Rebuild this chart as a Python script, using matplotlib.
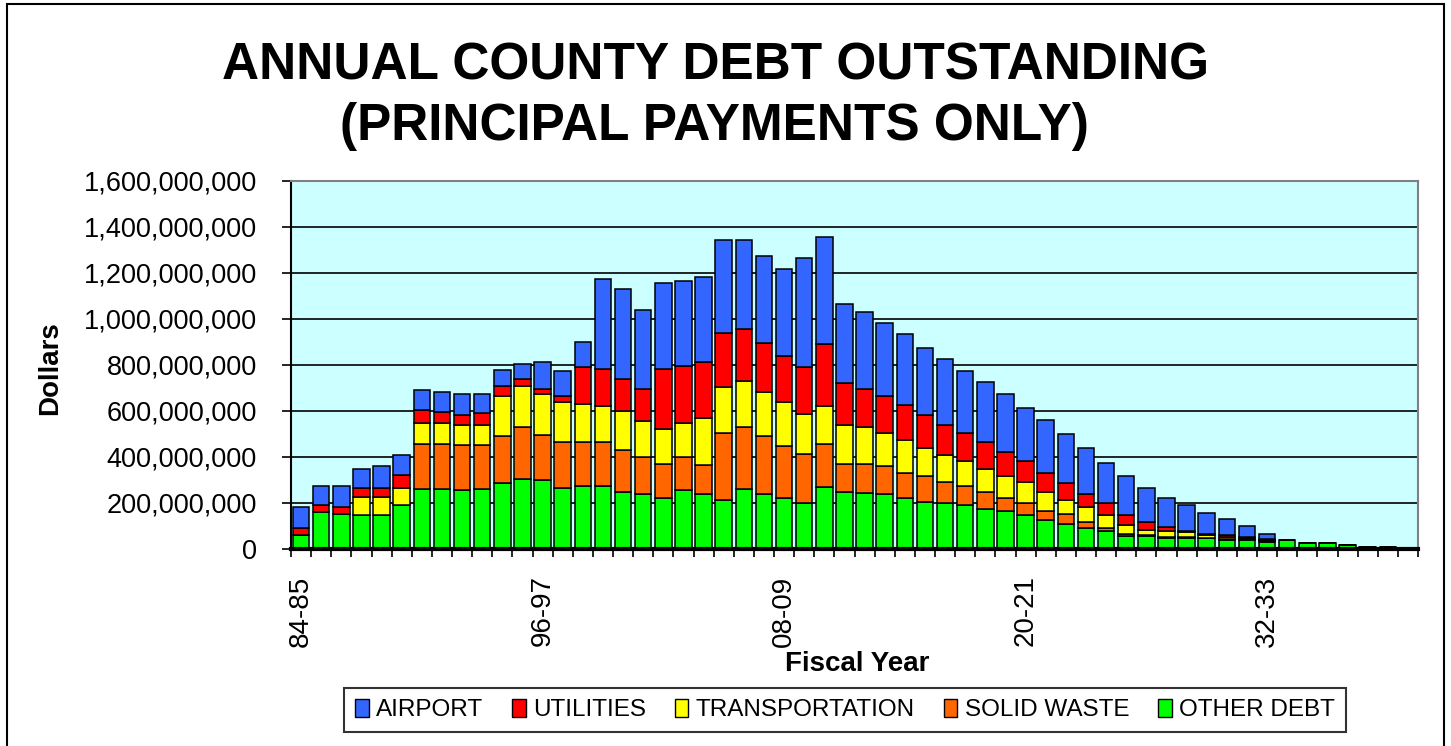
#!/usr/bin/env python3
# -*- coding: utf-8 -*-

"""
Annual county debt outstanding (principal payments only), stacked bars per fiscal year.
"""

import matplotlib
matplotlib.use("Agg")
import matplotlib.pyplot as plt
from matplotlib.patches import Patch, Rectangle
from matplotlib.ticker import FuncFormatter, FixedLocator

# fiscal years on the x axis
fiscal_years = [
    "84-85", "85-86", "86-87", "87-88", "88-89", "89-90", "90-91", "91-92",
    "92-93", "93-94", "94-95", "95-96", "96-97", "97-98", "98-99", "99-00",
    "00-01", "01-02", "02-03", "03-04", "04-05", "05-06", "06-07", "07-08",
    "08-09", "09-10", "10-11", "11-12", "12-13", "13-14", "14-15", "15-16",
    "16-17", "17-18", "18-19", "19-20", "20-21", "21-22", "22-23", "23-24",
    "24-25", "25-26", "26-27", "27-28", "28-29", "29-30", "30-31", "31-32",
    "32-33", "33-34", "34-35", "35-36", "36-37", "37-38", "38-39", "39-40",
]
shown_labels = ["84-85", "96-97", "08-09", "20-21", "32-33"]

# values in millions of dollars
other_debt = [
    60, 162, 154, 149, 149, 193, 262, 262, 255, 262, 288, 306, 298, 265,
    272, 272, 248, 241, 222, 255, 238, 212, 262, 241, 222, 200, 270, 248,
    245, 241, 222, 204, 200, 190, 172, 164, 146, 125, 107, 91, 78, 57,
    55, 46, 46, 46, 41, 41, 30, 38, 26, 26, 17, 8, 8, 1,
]
solid_waste = [
    0, 0, 0, 0, 0, 0, 196, 196, 198, 191, 202, 224, 199, 200,
    193, 193, 184, 159, 149, 145, 126, 294, 268, 249, 224, 214, 185, 123,
    126, 118, 108, 112, 91, 82, 76, 59, 54, 40, 44, 26, 15, 8,
    7, 6, 6, 4, 3, 3, 5, 0, 0, 0, 0, 0, 0, 0,
]
transportation = [
    0, 0, 0, 77, 77, 72, 90, 90, 87, 87, 174, 177, 175, 174,
    167, 158, 168, 156, 152, 149, 207, 198, 200, 192, 193, 174, 165, 167,
    159, 147, 142, 123, 116, 109, 101, 93, 91, 83, 63, 66, 53, 40,
    22, 26, 22, 10, 8, 4, 5, 0, 0, 0, 0, 0, 0, 0,
]
utilities = [
    30, 31, 29, 39, 39, 58, 58, 49, 41, 51, 43, 33, 25, 25,
    159, 158, 138, 141, 258, 248, 242, 235, 226, 215, 199, 203, 270, 185,
    167, 158, 153, 142, 133, 125, 116, 106, 92, 82, 74, 58, 54, 41,
    33, 16, 3, 5, 7, 4, 5, 0, 0, 0, 0, 0, 0, 0,
]
airport = [
    93, 82, 92, 84, 94, 84, 84, 85, 91, 81, 73, 66, 116, 108,
    107, 393, 394, 343, 375, 368, 369, 403, 386, 375, 378, 475, 466, 343,
    333, 318, 308, 293, 284, 268, 260, 253, 231, 229, 210, 200, 174, 171,
    148, 129, 116, 93, 73, 46, 22, 3, 0, 0, 0, 0, 0, 0,
]

series_names = ["OTHER DEBT", "SOLID WASTE", "TRANSPORTATION", "UTILITIES", "AIRPORT"]
series_colors = ["#00FF00", "#FF6600", "#FFFF00", "#FF0000", "#3366FF"]


def plot_debt(output_png="out.png"):
    plt.rcParams["font.family"] = ["Liberation Sans", "DejaVu Sans"]

    fig = plt.figure(figsize=(14.51, 7.46), dpi=100)
    ax = fig.add_axes([291 / 1451, 1 - 549 / 746, (1418 - 291) / 1451, (549 - 181) / 746])
    ax.set_facecolor("#CCFFFF")

    x = list(range(len(fiscal_years)))
    series = [other_debt, solid_waste, transportation, utilities, airport]
    bottom = [0.0] * len(x)
    for values, color in zip(series, series_colors):
        dollars = [v * 1e6 for v in values]
        ax.bar(x, dollars, bottom=bottom, width=0.82, color=color,
               edgecolor="black", linewidth=1.1, zorder=3)
        bottom = [b + d for b, d in zip(bottom, dollars)]

    ax.set_xlim(-0.5, len(x) - 0.5)
    ax.set_ylim(0, 1.6e9)

    # y axis
    ax.set_yticks([i * 2e8 for i in range(9)])
    ax.yaxis.set_major_formatter(FuncFormatter(lambda v, p: f"{v:,.0f}"))
    ax.tick_params(axis="y", direction="out", length=6.5, width=1.2,
                   pad=18, labelsize=19.5, color="black")
    ax.grid(axis="y", color="black", linewidth=1.2, zorder=1)

    # x axis: labels every 12 years, tick marks between categories
    label_pos = [fiscal_years.index(s) for s in shown_labels]
    ax.set_xticks(label_pos)
    ax.set_xticklabels(shown_labels, rotation=90, va="top", ha="center")
    ax.tick_params(axis="x", which="major", length=0, pad=19, labelsize=20)
    ax.xaxis.set_minor_locator(FixedLocator([i - 0.5 for i in range(len(x) + 1)]))
    ax.tick_params(axis="x", which="minor", direction="out", length=6, width=1.2)

    for side in ("top", "right"):
        ax.spines[side].set_color("#808080")
        ax.spines[side].set_linewidth(1.5)
    ax.spines["left"].set_color("black")
    ax.spines["left"].set_linewidth(1.5)
    ax.spines["bottom"].set_color("black")
    ax.spines["bottom"].set_linewidth(3)
    for sp in ax.spines.values():
        sp.set_zorder(4)

    # titles
    fig.text(715 / 1451, 1 - 80 / 746, "ANNUAL COUNTY DEBT OUTSTANDING",
             ha="center", va="baseline", fontsize=37, fontweight="bold")
    fig.text(714 / 1451, 1 - 140 / 746, "(PRINCIPAL PAYMENTS ONLY)",
             ha="center", va="baseline", fontsize=37, fontweight="bold")
    fig.text(50 / 1451, 1 - 368 / 746, "Dollars", rotation=90,
             ha="center", va="center", fontsize=20, fontweight="bold")
    fig.text(857 / 1451, 1 - 664 / 746, "Fiscal Year",
             ha="center", va="center", fontsize=20, fontweight="bold")

    # legend in the Excel order
    handles = [Patch(facecolor=c, edgecolor="black", linewidth=1.0)
               for c in series_colors[::-1]]
    leg = fig.legend(handles, series_names[::-1], loc="center",
                     bbox_to_anchor=(845 / 1451, 1 - 710 / 746),
                     bbox_transform=fig.transFigure, ncol=5, fontsize=17.5,
                     frameon=True, fancybox=False, handlelength=0.55,
                     handleheight=0.8, handletextpad=0.3, columnspacing=1.2,
                     borderpad=0.45)
    leg.get_frame().set_edgecolor("black")
    leg.get_frame().set_linewidth(1.5)

    # outer frame of the chart
    fig.patches.append(Rectangle((7 / 1451, -0.02), (1444 - 7) / 1451, 1.02 - 4 / 746 + 0.0,
                                 transform=fig.transFigure, fill=False,
                                 edgecolor="black", linewidth=1.5))

    fig.savefig(output_png, dpi=100, facecolor="white")
    plt.close(fig)


def main():
    plot_debt("out.png")


if __name__ == "__main__":
    main()
